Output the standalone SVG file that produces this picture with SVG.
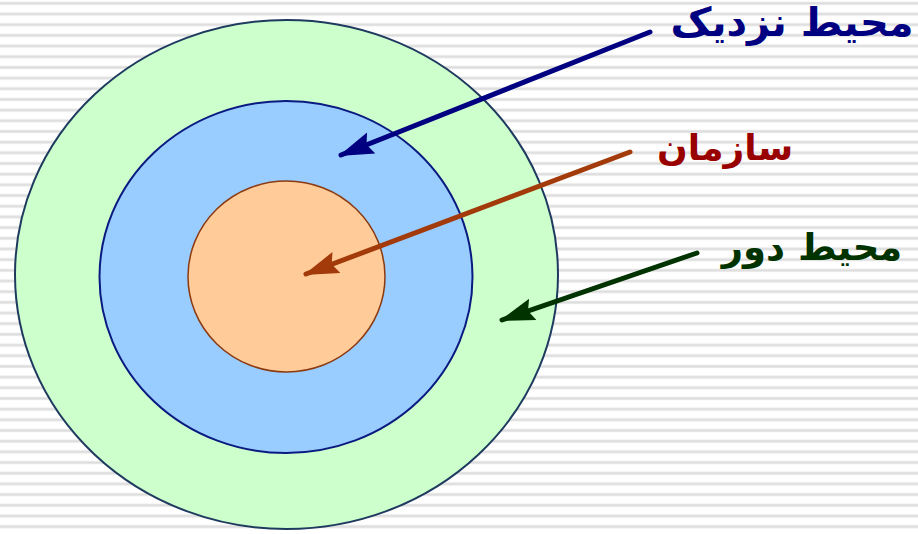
<svg xmlns="http://www.w3.org/2000/svg" width="918" height="534" viewBox="0 0 918 534">
  <defs>
    <pattern id="stripes" patternUnits="userSpaceOnUse" x="0" y="0" width="918" height="10.68">
      <rect x="0" y="0" width="918" height="10.68" fill="#ffffff"/>
      <rect x="0" y="1.6" width="918" height="3.4" fill="#eeeeee"/>
      <rect x="0" y="2.3" width="918" height="2" fill="#dddddd"/>
    </pattern>
    <marker id="mNavy" viewBox="0 0 14 10" refX="13" refY="5" markerWidth="35" markerHeight="25" markerUnits="userSpaceOnUse" orient="auto">
      <path d="M0,0.5 L14,5 L0,9.5 L2,5 Z" fill="#000080"/>
    </marker>
    <marker id="mBrown" viewBox="0 0 14 10" refX="13" refY="5" markerWidth="35" markerHeight="25" markerUnits="userSpaceOnUse" orient="auto">
      <path d="M0,0.5 L14,5 L0,9.5 L2,5 Z" fill="#a33a0a"/>
    </marker>
    <marker id="mGreen" viewBox="0 0 14 10" refX="13" refY="5" markerWidth="35" markerHeight="25" markerUnits="userSpaceOnUse" orient="auto">
      <path d="M0,0.5 L14,5 L0,9.5 L2,5 Z" fill="#003300"/>
    </marker>
  </defs>
  <style>
    .lbl { font-family: "DejaVu Sans", sans-serif; font-weight: bold; text-anchor: middle; }
    .arrow { fill: none; stroke-width: 5; stroke-linecap: round; }
  </style>
  <rect x="0" y="0" width="918" height="534" fill="url(#stripes)"/>

  <g id="outer">
    <ellipse cx="286.5" cy="274.5" rx="271.5" ry="254.5" fill="#ccffcc" stroke="#1f3a5f" stroke-width="2"/>
  </g>
  <g id="middle">
    <ellipse cx="286" cy="277" rx="186.5" ry="176" fill="#99ccff" stroke="#0a1a80" stroke-width="2"/>
  </g>
  <g id="inner">
    <ellipse cx="286.5" cy="276.5" rx="98.5" ry="95.5" fill="#ffcc99" stroke="#8b3a10" stroke-width="1.5"/>
  </g>

  <g id="connectors">
    <line class="arrow" x1="650" y1="32" x2="341" y2="155" stroke="#000080" marker-end="url(#mNavy)"/>
    <line class="arrow" x1="630" y1="152" x2="306" y2="274" stroke="#a33a0a" marker-end="url(#mBrown)"/>
    <line class="arrow" x1="697" y1="253" x2="502" y2="320" stroke="#003300" marker-end="url(#mGreen)"/>
  </g>

  <g id="label-near">
    <text class="lbl" x="792" y="36" font-size="40" fill="#000080">محیط نزدیک</text>
  </g>
  <g id="label-org">
    <text class="lbl" x="725" y="160" font-size="36" fill="#990000">سازمان</text>
  </g>
  <g id="label-far">
    <text class="lbl" x="812" y="260" font-size="37" fill="#003300">محیط دور</text>
  </g>
</svg>
